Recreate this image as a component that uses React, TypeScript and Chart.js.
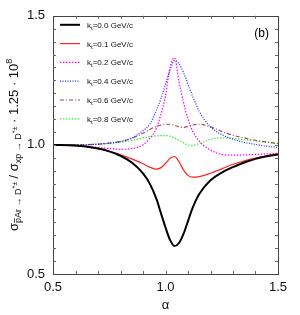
import React, { useEffect, useRef } from 'react';
import { Chart, registerables } from 'chart.js';

Chart.register(...registerables);

const FONT = '"Liberation Sans", Arial, Helvetica, sans-serif';

// shared alpha grid (x values)
const ALPHA = [0.5, 0.6, 0.7, 0.75, 0.8, 0.85, 0.9, 0.93, 0.96, 0.98, 1.0, 1.02, 1.04, 1.06, 1.08, 1.1, 1.12, 1.15, 1.2, 1.25, 1.3, 1.35, 1.4, 1.45, 1.5];

const KT_LABELS = ['0.0', '0.1', '0.2', '0.4', '0.6', '0.8'];

const V_KT00 = [1.0, 0.998, 0.986, 0.975, 0.958, 0.932, 0.89, 0.85, 0.79, 0.735, 0.68, 0.632, 0.608, 0.62, 0.655, 0.705, 0.755, 0.81, 0.863, 0.893, 0.914, 0.932, 0.946, 0.956, 0.963];
const V_KT01 = [1.0, 0.997, 0.986, 0.975, 0.962, 0.946, 0.927, 0.914, 0.906, 0.912, 0.928, 0.948, 0.955, 0.935, 0.903, 0.882, 0.875, 0.877, 0.89, 0.907, 0.925, 0.938, 0.949, 0.958, 0.966];
const V_KT02 = [1.0, 0.997, 0.99, 0.986, 0.983, 0.986, 1.0, 1.025, 1.065, 1.12, 1.19, 1.3, 1.337, 1.245, 1.165, 1.1, 1.055, 1.015, 0.98, 0.963, 0.96, 0.961, 0.963, 0.965, 0.967];
const V_KT04 = [1.0, 1.0, 1.003, 1.007, 1.013, 1.027, 1.055, 1.08, 1.135, 1.18, 1.235, 1.29, 1.327, 1.315, 1.28, 1.235, 1.19, 1.13, 1.07, 1.04, 1.022, 1.01, 1.002, 0.995, 0.99];
const V_KT06 = [1.0, 1.0, 1.003, 1.007, 1.013, 1.025, 1.045, 1.06, 1.072, 1.077, 1.08, 1.08, 1.076, 1.07, 1.068, 1.072, 1.077, 1.08, 1.07, 1.052, 1.037, 1.027, 1.018, 1.011, 1.005];
const V_KT08 = [1.0, 1.0, 1.003, 1.005, 1.01, 1.017, 1.027, 1.032, 1.035, 1.036, 1.036, 1.034, 1.027, 1.018, 1.008, 1.0, 0.998, 1.005, 1.022, 1.027, 1.025, 1.02, 1.015, 1.01, 1.006];

const SERIES = [V_KT00, V_KT01, V_KT02, V_KT04, V_KT06, V_KT08];

const X_MIN = 0.5, X_MAX = 1.5, X_STEP = 0.5, X_MINOR = 0.1;
const Y_MIN = 0.5, Y_MAX = 1.5, Y_STEP = 0.5, Y_MINOR = 0.05;

const PANEL_LABEL = '(b)';
const X_TITLE = 'α';

const STYLES = [
  { color: '#000000', width: 2, dash: [] as number[] },
  { color: '#ff2222', width: 1.2, dash: [] as number[] },
  { color: '#ff00ff', width: 1.2, dash: [1.5, 1.5] },
  { color: '#2222ff', width: 1.2, dash: [1, 1.5] },
  { color: '#a05050', width: 1.2, dash: [4, 2, 1, 2] },
  { color: '#33ee33', width: 1.2, dash: [1.5, 1.5] },
];

type Part = { t: string; f: string; dy: number; bar?: boolean };

function drawParts(ctx: CanvasRenderingContext2D, parts: Part[], x0: number, y0: number) {
  let x = x0;
  for (const p of parts) {
    ctx.font = p.f;
    ctx.fillText(p.t, x, y0 + p.dy);
    const w = ctx.measureText(p.t).width;
    if (p.bar) {
      ctx.save();
      ctx.lineWidth = 0.8;
      ctx.beginPath();
      ctx.moveTo(x + 0.5, y0 + p.dy - 6.5);
      ctx.lineTo(x + w - 0.3, y0 + p.dy - 6.5);
      ctx.stroke();
      ctx.restore();
    }
    x += w;
  }
  return x - x0;
}

function measureParts(ctx: CanvasRenderingContext2D, parts: Part[]) {
  let w = 0;
  for (const p of parts) {
    ctx.font = p.f;
    w += ctx.measureText(p.t).width;
  }
  return w;
}

const decorPlugin = {
  id: 'decor',
  afterDraw(chart: any) {
    const ctx: CanvasRenderingContext2D = chart.ctx;
    const { left, right, top, bottom } = chart.chartArea;
    const xs = chart.scales.x;
    const ys = chart.scales.y;
    ctx.save();
    // frame
    ctx.strokeStyle = '#444';
    ctx.lineWidth = 1;
    ctx.setLineDash([]);
    ctx.strokeRect(Math.round(left) + 0.5, Math.round(top) + 0.5, Math.round(right - left), Math.round(bottom - top));
    // ticks inward
    const tl = 3;
    ctx.strokeStyle = '#666';
    ctx.beginPath();
    const nx = Math.round((X_MAX - X_MIN) / X_MINOR);
    for (let i = 1; i < nx; i++) {
      const px = Math.round(xs.getPixelForValue(X_MIN + i * X_MINOR)) + 0.5;
      ctx.moveTo(px, bottom);
      ctx.lineTo(px, bottom - tl);
      ctx.moveTo(px, top);
      ctx.lineTo(px, top + tl);
    }
    const ny = Math.round((Y_MAX - Y_MIN) / Y_MINOR);
    for (let i = 1; i < ny; i++) {
      const py = Math.round(ys.getPixelForValue(Y_MIN + i * Y_MINOR)) + 0.5;
      ctx.moveTo(left, py);
      ctx.lineTo(left + tl, py);
      ctx.moveTo(right, py);
      ctx.lineTo(right - tl, py);
    }
    ctx.stroke();

    // panel label
    ctx.fillStyle = '#000';
    ctx.font = `12px ${FONT}`;
    ctx.textAlign = 'right';
    ctx.textBaseline = 'alphabetic';
    ctx.fillText(PANEL_LABEL, right - 9, top + 21);

    // x title
    ctx.textAlign = 'center';
    ctx.font = `13px ${FONT}`;
    ctx.fillStyle = '#111';
    ctx.fillText(X_TITLE, (left + right) / 2, 309);

    // legend
    ctx.textAlign = 'left';
    const lx0 = left + 7, lx1 = left + 27, tx = left + 34;
    const y0 = top + 9, dyRow = 18.8;
    chart.data.datasets.forEach((ds: any, i: number) => {
      const y = y0 + i * dyRow;
      ctx.save();
      ctx.strokeStyle = ds.borderColor;
      ctx.lineWidth = ds.borderWidth;
      ctx.setLineDash(ds.borderDash || []);
      ctx.beginPath();
      ctx.moveTo(lx0, y);
      ctx.lineTo(lx1, y);
      ctx.stroke();
      ctx.restore();
      ctx.fillStyle = '#111';
      drawParts(ctx, [
        { t: 'k', f: `8px ${FONT}`, dy: 0 },
        { t: 't', f: `6px ${FONT}`, dy: 2 },
        { t: `=${KT_LABELS[i]} GeV/c`, f: `8px ${FONT}`, dy: 0 },
      ], tx, y + 3);
    });

    // y title
    const main = `13px ${FONT}`, sub = `9px ${FONT}`, tiny = `7px ${FONT}`;
    const parts: Part[] = [
      { t: 'σ', f: main, dy: 0 },
      { t: 'p', f: sub, dy: 3, bar: true },
      { t: 'Ar → D', f: sub, dy: 3 },
      { t: '*±', f: tiny, dy: -1 },
      { t: ' / ', f: main, dy: 0 },
      { t: 'σ', f: main, dy: 0 },
      { t: 'xp → D', f: sub, dy: 3 },
      { t: '*±', f: tiny, dy: -1 },
      { t: ' · 1.25 · 10', f: main, dy: 0 },
      { t: '8', f: sub, dy: -6 },
    ];
    const total = measureParts(ctx, parts);
    ctx.translate(18, (top + bottom) / 2);
    ctx.rotate(-Math.PI / 2);
    ctx.fillStyle = '#111';
    ctx.strokeStyle = '#111';
    drawParts(ctx, parts, -total / 2, 0);
    ctx.restore();
  },
};

export default function App() {
  const ref = useRef<HTMLCanvasElement | null>(null);
  useEffect(() => {
    document.body.style.margin = '0';
    const canvas = ref.current!;
    const datasets = SERIES.map((vals, i) => ({
      label: `k_t=${KT_LABELS[i]} GeV/c`,
      data: ALPHA.map((a, j) => ({ x: a, y: vals[j] })),
      borderColor: STYLES[i].color,
      borderWidth: STYLES[i].width,
      borderDash: STYLES[i].dash,
      pointRadius: 0,
      fill: false,
      cubicInterpolationMode: 'monotone' as const,
    }));
    const tickFont = { size: 13, family: FONT };
    const chart = new Chart(canvas, {
      type: 'line',
      data: { datasets },
      plugins: [decorPlugin],
      options: {
        animation: false,
        responsive: false,
        devicePixelRatio: 1,
        layout: { padding: { top: 15, right: 22, left: 0, bottom: 0 } },
        plugins: { legend: { display: false }, tooltip: { enabled: false } },
        scales: {
          x: {
            type: 'linear',
            min: X_MIN,
            max: X_MAX,
            grid: { display: false, drawTicks: false },
            border: { display: false },
            ticks: {
              stepSize: X_STEP,
              autoSkip: false,
              maxRotation: 0,
              padding: 6,
              color: '#111',
              font: tickFont,
              callback: (v: any) => Number(v).toFixed(1),
            },
            afterFit: (s: any) => { s.height = 41; },
          },
          y: {
            type: 'linear',
            min: Y_MIN,
            max: Y_MAX,
            grid: { display: false, drawTicks: false },
            border: { display: false },
            ticks: {
              stepSize: Y_STEP,
              autoSkip: false,
              padding: 8,
              color: '#111',
              font: tickFont,
              callback: (v: any) => Number(v).toFixed(1),
            },
            afterFit: (s: any) => { s.width = 53; },
          },
        },
      },
    });
    return () => chart.destroy();
  }, []);
  return (
    <div style={{ width: 300, height: 315 }}>
      <canvas ref={ref} width={300} height={315} style={{ display: 'block' }} />
    </div>
  );
}
